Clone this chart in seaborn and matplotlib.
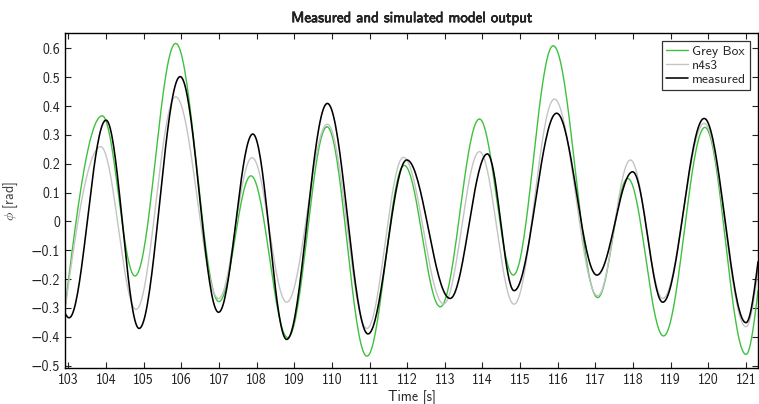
import numpy as np
import pandas as pd
import seaborn as sns
import matplotlib.pyplot as plt
import matplotlib.patheffects as pe

# turning points (time [s], phi [rad]); first/last are the axis edges
grey_box_t = [102.91, 103.90, 104.77, 105.85, 107.00, 107.85, 108.83, 109.87, 110.93, 111.92,
              112.88, 113.92, 114.82, 115.88, 117.06, 117.86, 118.81, 119.91, 121.00, 121.32]
grey_box_y = [-0.301, 0.366, -0.189, 0.617, -0.278, 0.158, -0.403, 0.328, -0.467, 0.194,
              -0.296, 0.355, -0.186, 0.609, -0.264, 0.149, -0.397, 0.326, -0.461, -0.24]

n4s3_t = [102.91, 103.86, 104.80, 105.85, 106.99, 107.88, 108.80, 109.88, 110.93, 111.90,
          112.97, 113.92, 114.84, 115.91, 117.06, 117.93, 118.79, 119.89, 121.00, 121.32]
n4s3_y = [-0.305, 0.259, -0.305, 0.432, -0.267, 0.221, -0.280, 0.337, -0.371, 0.222,
          -0.286, 0.242, -0.287, 0.424, -0.258, 0.213, -0.267, 0.340, -0.365, -0.17]

measured_t = [102.91, 103.02, 104.00, 104.88, 105.97, 106.99, 107.90, 108.80, 109.88, 110.96,
              111.99, 113.14, 114.13, 114.84, 115.97, 117.04, 117.99, 118.79, 119.89, 121.00, 121.32]
measured_y = [-0.318, -0.334, 0.351, -0.371, 0.502, -0.315, 0.303, -0.409, 0.409, -0.390,
              0.213, -0.267, 0.234, -0.240, 0.375, -0.186, 0.172, -0.280, 0.357, -0.351, -0.14]

series = {"Grey Box": (grey_box_t, grey_box_y),
          "n4s3": (n4s3_t, n4s3_y),
          "measured": (measured_t, measured_y)}
colors = {"Grey Box": "#3fc03f", "n4s3": "#c4c4c4", "measured": "black"}
widths = {"Grey Box": 1.0, "n4s3": 1.0, "measured": 1.15}


def smooth(t, y, n=40):
    # draw the oscillation between turning points with a cosine easing
    xs, ys = [], []
    last = len(t) - 2
    for i in range(len(t) - 1):
        s = np.linspace(0, 1, n)
        if i == 0:
            w = np.sin(np.pi / 2 * s)
        elif i == last:
            w = 1 - np.cos(np.pi / 2 * s)
        else:
            w = (1 - np.cos(np.pi * s)) / 2
        xs.append(t[i] + (t[i + 1] - t[i]) * s)
        ys.append(y[i] + (y[i + 1] - y[i]) * w)
    return np.concatenate(xs), np.concatenate(ys)


frames = []
for name, (t, y) in series.items():
    xs, ys = smooth(t, y)
    frames.append(pd.DataFrame({"Time": xs, "phi": ys, "model": name}))
df = pd.concat(frames, ignore_index=True)

sns.set_style("ticks")
plt.rcParams['font.family'] = ['cmss10', 'DejaVu Sans']
plt.rcParams['mathtext.fontset'] = 'cm'
plt.rcParams['axes.unicode_minus'] = True

fig = plt.figure(figsize=(7.59, 4.04), dpi=100)
ax = fig.add_axes([0.0856, 0.0884, 0.9131, 0.8292])

for name in series:
    sns.lineplot(data=df[df["model"] == name], x="Time", y="phi", ax=ax,
                 color=colors[name], lw=widths[name], label=name, sort=False,
                 estimator=None)

yticks = np.round(np.arange(-0.5, 0.61, 0.1), 1)
ax.set_xlim(102.91, 121.32)
ax.set_ylim(-0.509, 0.652)
ax.set_xticks(np.arange(103, 122, 1))
ax.set_yticks(yticks)
ax.set_yticklabels(["0" if abs(v) < 1e-9 else f"{v:g}".replace("-", "\u2212") for v in yticks])
ax.tick_params(direction="in", top=True, right=True, length=4, width=0.8,
               labelsize=10, colors="#222222", labelcolor="#222222")
for sp in ax.spines.values():
    sp.set_visible(True)
    sp.set_color("black")
    sp.set_linewidth(1.0)

ax.set_xlabel("Time [s]", fontsize=10, labelpad=2)
ax.set_ylabel(r"$\phi$ [rad]", fontsize=10, color="#444444", labelpad=8)
title = ax.set_title("Measured and simulated model output", fontsize=10.8, pad=8)
title.set_path_effects([pe.withStroke(linewidth=0.45, foreground="black")])

leg = ax.legend(loc="upper right", fontsize=9.8, frameon=True, fancybox=False,
                handlelength=1.6, handletextpad=0.3, borderpad=0.3,
                labelspacing=0.1, borderaxespad=0.6)
leg.get_frame().set_edgecolor("black")
leg.get_frame().set_linewidth(0.9)

fig.savefig("out.png", dpi=100)
